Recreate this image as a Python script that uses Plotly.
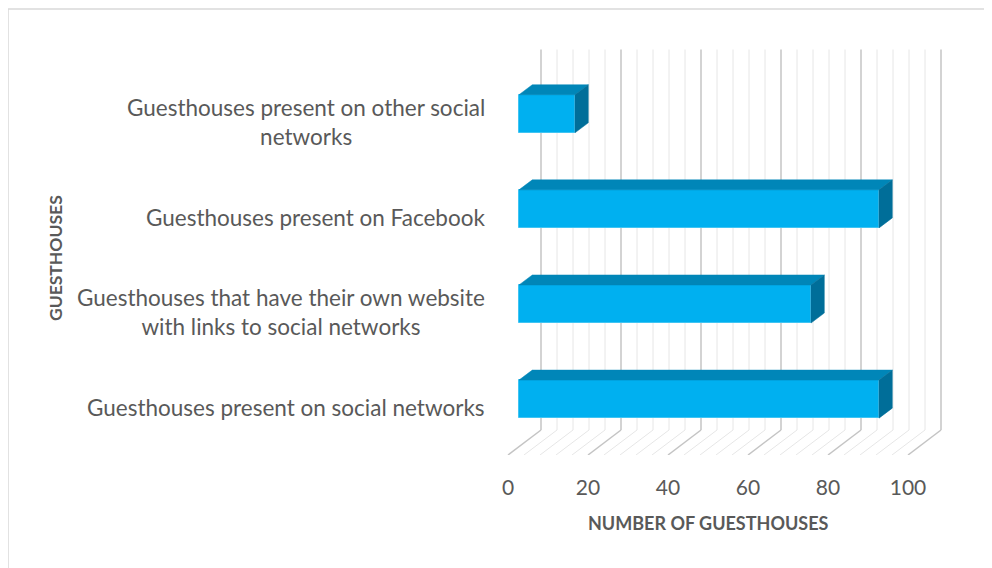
import plotly.graph_objects as go

# ---------------- data ----------------
categories = [
    "Guesthouses present on social networks",
    "Guesthouses that have their own website<br>with links to social networks",
    "Guesthouses present on Facebook",
    "Guesthouses present on other social<br>networks",
]
values = [90, 73, 90, 14]
tick_vals = [0, 20, 40, 60, 80, 100]
minor_step = 4
x_title = "NUMBER OF GUESTHOUSES"
y_title = "GUESTHOUSES"

# ---------------- layout geometry ----------------
OFF = 8  # page body margin
W, H = 992 - OFF, 568 - OFF
L, R, T, B = 500 - OFF, 36, 46 - OFF, 113
XR = [-2, 112]
YR = [-0.5, 3.8]
pw, ph = W - L - R, H - T - B
xpx = pw / (XR[1] - XR[0])
ypx = ph / (YR[1] - YR[0])

# oblique depth (in data units)
DX = 33 / xpx
DY = 25 / ypx
BX0, BY0 = DX / 3, (DY / 3)
BDX, BDY = 13.3 / xpx, 10 / ypx
BAR_H = 0.4

FRONT = "#00B0F0"
TOP = "#0086B8"
SIDE = "#006E99"
TXT = "#595959"
FONT = "Lato"


def px2paper_x(px):
    return (px - OFF - L) / pw


def px2paper_y(py):
    return (H - B - (py - OFF)) / ph


fig = go.Figure()

# gridlines: back wall + floor
shapes = []
for v in range(0, tick_vals[-1] + 1, minor_step):
    major = v % 20 == 0
    col = "#c4c4c4" if major else "#e6e6e6"
    wd = 1.5 if major else 1
    shapes.append(dict(type="line", xref="x", yref="y", layer="below",
                       x0=v + DX, x1=v + DX, y0=YR[0] + DY, y1=3.5 + DY,
                       line=dict(color=col, width=wd)))
    shapes.append(dict(type="line", xref="x", yref="y", layer="below",
                       x0=v, x1=v + DX, y0=YR[0], y1=YR[0] + DY,
                       line=dict(color=col, width=wd)))

# outer border
shapes.append(dict(type="rect", xref="paper", yref="paper", layer="below",
                   x0=px2paper_x(8), x1=px2paper_x(992 + 10),
                   y0=px2paper_y(568 + 10), y1=px2paper_y(9),
                   line=dict(color="#d9d9d9", width=1.5)))

# front faces
ys = [i + BY0 for i in range(len(values))]
fig.add_trace(go.Bar(orientation="h", y=ys, x=values, base=BX0, width=BAR_H,
                     marker=dict(color=FRONT, line=dict(color="#40c4f2", width=1)),
                     hoverinfo="skip", showlegend=False))

# top & side faces
for i, v in enumerate(values):
    yb = i + BY0 - BAR_H / 2
    yt = i + BY0 + BAR_H / 2
    x0 = BX0
    x1 = BX0 + v
    fig.add_trace(go.Scatter(
        x=[x0, x1, x1 + BDX, x0 + BDX, x0],
        y=[yt, yt, yt + BDY, yt + BDY, yt],
        fill="toself", fillcolor=TOP, mode="lines",
        line=dict(color=TOP, width=0.5), hoverinfo="skip", showlegend=False))
    fig.add_trace(go.Scatter(
        x=[x1, x1 + BDX, x1 + BDX, x1, x1],
        y=[yb, yb + BDY, yt + BDY, yt, yb],
        fill="toself", fillcolor=SIDE, mode="lines",
        line=dict(color=SIDE, width=0.5), hoverinfo="skip", showlegend=False))

annotations = []
for i, c in enumerate(categories):
    annotations.append(dict(text=c, xref="paper", yref="y", x=px2paper_x(487), y=i,
                            xanchor="right", yanchor="middle", align="center",
                            showarrow=False, font=dict(family=FONT, size=22.5, color=TXT)))
annotations.append(dict(text="<b>%s</b>" % x_title, xref="paper", yref="paper",
                        x=px2paper_x(708), y=px2paper_y(523), xanchor="center", yanchor="middle",
                        showarrow=False, font=dict(family=FONT, size=18, color=TXT)))
annotations.append(dict(text="<b>%s</b>" % y_title, xref="paper", yref="paper",
                        x=px2paper_x(56), y=px2paper_y(258), xanchor="center", yanchor="middle",
                        textangle=-90, showarrow=False,
                        font=dict(family=FONT, size=17.5, color=TXT)))

fig.update_layout(
    width=W, height=H,
    margin=dict(l=L, r=R, t=T, b=B),
    paper_bgcolor="white", plot_bgcolor="white",
    shapes=shapes, annotations=annotations,
    xaxis=dict(range=XR, tickvals=tick_vals, ticktext=[str(t) for t in tick_vals],
               showgrid=False, zeroline=False, showline=False, ticks="",
               ticklabelstandoff=18,
               tickfont=dict(family=FONT, size=21, color=TXT), fixedrange=True),
    yaxis=dict(range=YR, showgrid=False, zeroline=False, showline=False,
               showticklabels=False, ticks="", fixedrange=True),
    bargap=0,
)

fig.write_html("out.html")
